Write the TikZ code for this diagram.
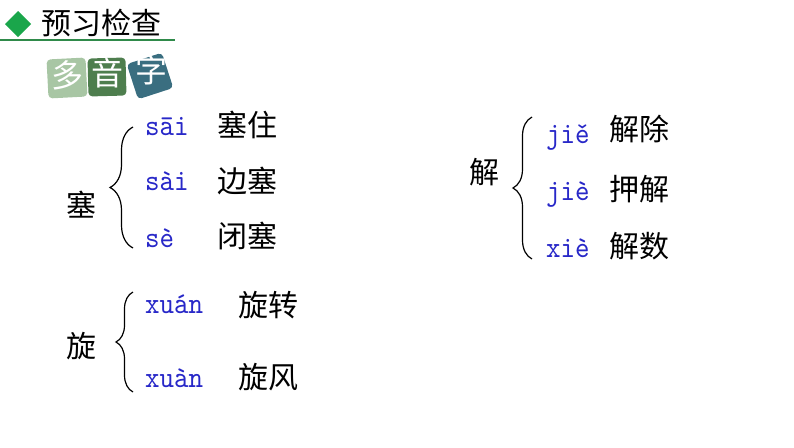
\documentclass[tikz,border=0pt]{standalone}
\usepackage{fontspec}
\newfontfamily\cjk{Noto Sans CJK SC}
\newfontfamily\pyfont{lmmono10-regular.otf}[FakeStretch=0.92]
\usetikzlibrary{decorations.pathreplacing}
\definecolor{pyblue}{RGB}{40,40,200}
\definecolor{markgreen}{RGB}{26,166,75}
\definecolor{rulegreen}{RGB}{47,138,74}
\definecolor{tileA}{RGB}{168,198,164}
\definecolor{tileB}{RGB}{78,126,78}
\definecolor{tileC}{RGB}{58,110,128}
\tikzset{
  hz/.style={font=\cjk\fontsize{30}{30}\selectfont, inner sep=0pt},
  wd/.style={anchor=west, font=\cjk\fontsize{30}{30}\selectfont, inner sep=0pt},
  py/.style={anchor=base west, text=pyblue, font=\pyfont\fontsize{30}{30}\selectfont, inner sep=0pt},
  brc/.style={decorate, decoration={brace, amplitude=#1}, line width=1.2pt},
  tile/.style={rounded corners=4pt, minimum size=#1, inner sep=0pt},
  tiletext/.style={text=white, font=\cjk\fontsize{32}{32}\selectfont, inner sep=0pt}
}
\begin{document}
\begin{tikzpicture}[x=1pt, y=-1pt]
  \useasboundingbox (0,0) rectangle (794,447);
  % heading
  \fill[markgreen] (5,24) -- (18,11) -- (31,24) -- (18,37) -- cycle;
  \node[hz, anchor=west] (title) at (41,23) {预习检查};
  \coordinate (ruleL) at (0,40);
  \coordinate (ruleR) at (175,40);
  \draw[rulegreen, line width=1.3pt] (ruleL) -- (ruleR);
  \node[tile=39pt, fill=tileA, rotate=3] (duoBox) at (67,78) {};
  \node[tile=38pt, fill=tileB, rotate=1.5] (yinBox) at (107,77) {};
  \node[tile=37pt, fill=tileC, rotate=18] (ziBox) at (150,76) {};
  \node[tiletext] (duo) at (67,75) {多};
  \node[tiletext] (yin) at (107,73) {音};
  \node[tiletext] (zi) at (151,70) {字};
  % 塞
  \node[hz] (sai) at (81,205) {塞};
  \coordinate (saiTop) at (133,127);
  \coordinate (saiBot) at (133,248);
  \draw[brc=23pt] (saiBot) -- (saiTop);
  \node[py] (sai1) at (145,135) {sāi};
  \node[py] (sai2) at (145,190) {sài};
  \node[py] (sai3) at (145,247) {sè};
  \node[wd] (saiW1) at (217,125) {塞住};
  \node[wd] (saiW2) at (217,181) {边塞};
  \node[wd] (saiW3) at (217,236) {闭塞};
  % 解
  \node[hz] (jie) at (484,172) {解};
  \coordinate (jieTop) at (532,117);
  \coordinate (jieBot) at (532,259);
  \draw[brc=19pt] (jieBot) -- (jieTop);
  \node[py] (jie1) at (546,143) {jiě};
  \node[py] (jie2) at (546,200) {jiè};
  \node[py] (jie3) at (546,257) {xiè};
  \node[wd] (jieW1) at (609,129) {解除};
  \node[wd] (jieW2) at (609,189) {押解};
  \node[wd] (jieW3) at (609,246) {解数};
  % 旋
  \node[hz] (xuan) at (81,346) {旋};
  \coordinate (xuanTop) at (133,292);
  \coordinate (xuanBot) at (133,392);
  \draw[brc=17pt] (xuanBot) -- (xuanTop);
  \node[py] (xuan1) at (145,313) {xuán};
  \node[py] (xuan2) at (145,387) {xuàn};
  \node[wd] (xuanW1) at (238,305) {旋转};
  \node[wd] (xuanW2) at (238,377) {旋风};
\end{tikzpicture}
\end{document}
